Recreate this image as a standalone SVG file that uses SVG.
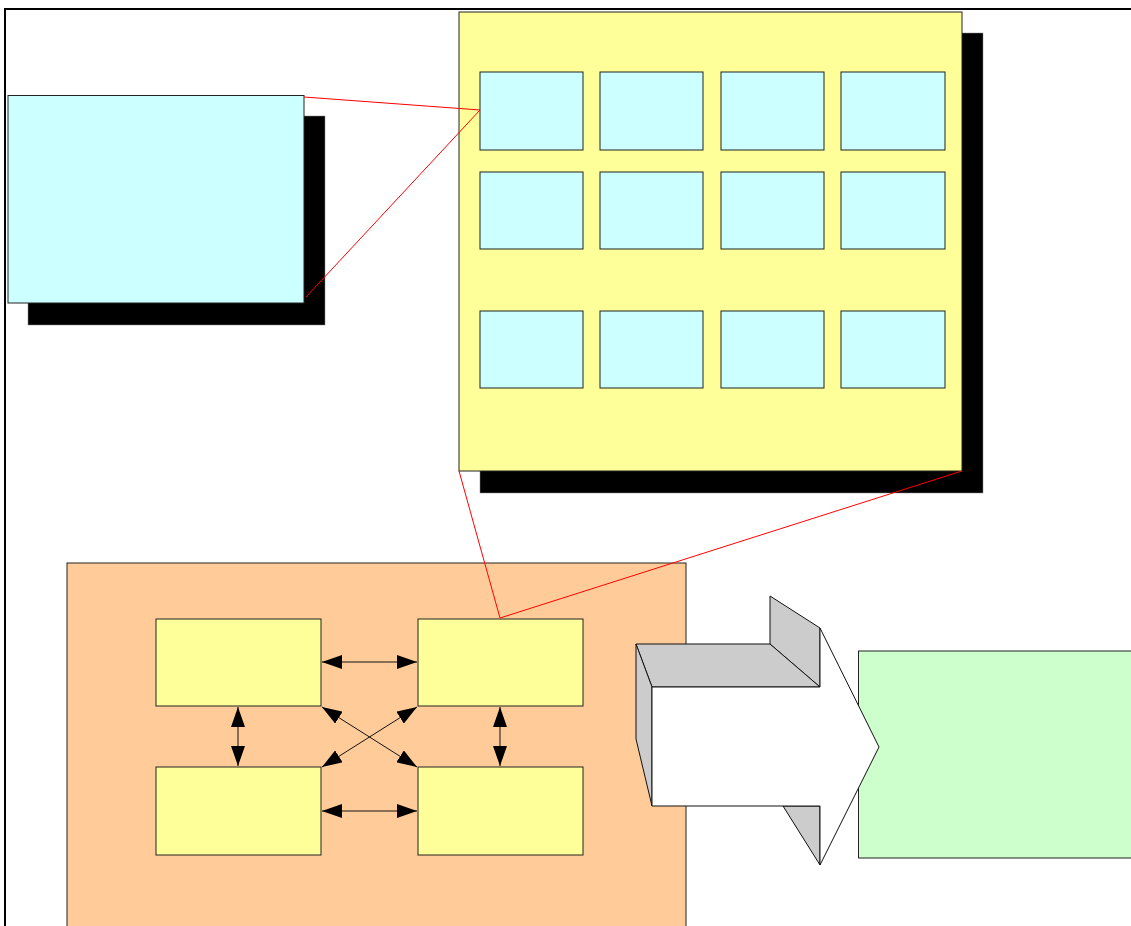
<svg xmlns="http://www.w3.org/2000/svg" width="1131" height="926" viewBox="0 0 1131 926">
<style>
.box{stroke:#222;stroke-width:1}
.cyan{fill:#CCFFFF}
.yel{fill:#FFFF99}
.shadow{fill:#000;stroke:#888;stroke-width:0.5}
.red{stroke:#FF0000;stroke-width:1;fill:none}
.conn{stroke:#111;stroke-width:1;fill:none;marker-start:url(#ah);marker-end:url(#ah)}
.gray{fill:#CCCCCC;stroke:#111;stroke-width:1;stroke-linejoin:round}
</style>
<defs>
<marker id="ah" viewBox="0 0 20 14" refX="20" refY="7" markerWidth="20" markerHeight="14" markerUnits="userSpaceOnUse" orient="auto-start-reverse">
<path d="M0,0 L20,7 L0,14 Z" fill="#000"/>
</marker>
</defs>
<rect width="1131" height="926" fill="#fff"/>
<path d="M5,926 L5,9 L1131,9" fill="none" stroke="#000" stroke-width="2"/>

<g id="detail-box">
<rect class="shadow" x="28" y="116" width="297" height="209"/>
<rect class="box cyan" x="8" y="95.5" width="296" height="207.5"/>
</g>

<g id="panel">
<rect class="shadow" x="480" y="33" width="503" height="460"/>
<rect class="box yel" x="459" y="12" width="503" height="459"/>
<g id="cells">
<rect class="box cyan" x="480" y="72" width="103" height="78"/>
<rect class="box cyan" x="600" y="72" width="103" height="78"/>
<rect class="box cyan" x="721" y="72" width="103" height="78"/>
<rect class="box cyan" x="841" y="72" width="104" height="78"/>
<rect class="box cyan" x="480" y="172" width="103" height="77"/>
<rect class="box cyan" x="600" y="172" width="103" height="77"/>
<rect class="box cyan" x="721" y="172" width="103" height="77"/>
<rect class="box cyan" x="841" y="172" width="104" height="77"/>
<rect class="box cyan" x="480" y="311" width="103" height="77"/>
<rect class="box cyan" x="600" y="311" width="103" height="77"/>
<rect class="box cyan" x="721" y="311" width="103" height="77"/>
<rect class="box cyan" x="841" y="311" width="104" height="77"/>
</g>
</g>

<g id="cluster">
<rect class="box" fill="#FFCC99" x="67" y="563" width="619" height="370"/>
<rect id="n1" class="box yel" x="156" y="619" width="165" height="87"/>
<rect id="n2" class="box yel" x="418" y="619" width="165" height="87"/>
<rect id="n3" class="box yel" x="156" y="767" width="165" height="88"/>
<rect id="n4" class="box yel" x="418" y="767" width="165" height="88"/>
</g>

<g id="target">
<rect class="box" fill="#CCFFCC" x="858.5" y="651" width="280" height="207"/>
</g>

<g id="big-arrow">
<path class="gray" d="M770,596 L820,628 L820,687 L770,644 Z"/>
<path class="gray" d="M636,644 L770,644 L820,687 L652,687 Z"/>
<path class="gray" d="M636,644 L652,687 L652,806 L636,739 Z"/>
<path class="gray" d="M783,806 L820,806 L820,865 Z"/>
<path d="M652,687 L820,687 L820,628 L879,747 L820,865 L820,806 L652,806 Z" fill="#fff" stroke="#111" stroke-width="1" stroke-linejoin="round"/>
</g>

<g id="connectors">
<line class="conn" x1="322" y1="662" x2="417" y2="662"/>
<line class="conn" x1="322" y1="811" x2="417" y2="811"/>
<line class="conn" x1="238" y1="707" x2="238" y2="766"/>
<line class="conn" x1="500" y1="707" x2="500" y2="766"/>
<line class="conn" x1="322" y1="707" x2="417" y2="767"/>
<line class="conn" x1="417" y1="707" x2="322" y2="767"/>
<line class="red" x1="304" y1="97" x2="480" y2="110"/>
<line class="red" x1="306" y1="297" x2="480" y2="110"/>
<line class="red" x1="459" y1="471" x2="500" y2="618"/>
<line class="red" x1="962" y1="471" x2="500" y2="618"/>
</g>
</svg>
